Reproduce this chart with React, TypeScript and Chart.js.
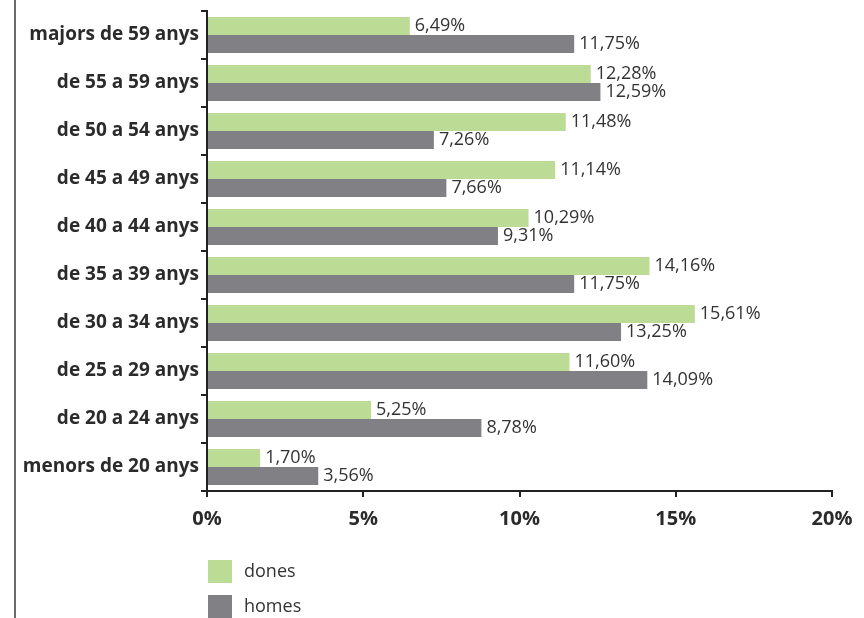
import React, { useEffect, useRef } from 'react';
import { Chart, registerables } from 'chart.js';

Chart.register(...registerables);

const categories = [
  'majors de 59 anys',
  'de 55 a 59 anys',
  'de 50 a 54 anys',
  'de 45 a 49 anys',
  'de 40 a 44 anys',
  'de 35 a 39 anys',
  'de 30 a 34 anys',
  'de 25 a 29 anys',
  'de 20 a 24 anys',
  'menors de 20 anys',
];
const dones = [6.49, 12.28, 11.48, 11.14, 10.29, 14.16, 15.61, 11.6, 5.25, 1.7];
const homes = [11.75, 12.59, 7.26, 7.66, 9.31, 11.75, 13.25, 14.09, 8.78, 3.56];
const seriesLabels = ['dones', 'homes'];
const xMin = 0;
const xMax = 20;
const xStep = 5;

const colors = ['#bcdc96', '#808085'];
const FONT = "'Open Sans', 'DejaVu Sans', sans-serif";
const TEXT = '#2b2b2b';

const fmt = (v: number) => v.toFixed(2).replace('.', ',') + '%';

const valueLabels = {
  id: 'valueLabels',
  afterDatasetsDraw(chart: any) {
    const ctx = chart.ctx;
    ctx.save();
    ctx.font = `400 18px ${FONT}`;
    ctx.fillStyle = '#333';
    ctx.textAlign = 'left';
    ctx.textBaseline = 'middle';
    chart.data.datasets.forEach((ds: any, di: number) => {
      const meta = chart.getDatasetMeta(di);
      meta.data.forEach((bar: any, i: number) => {
        ctx.fillText(fmt(ds.data[i]), bar.x + 5, bar.y);
      });
    });
    ctx.restore();
  },
};

const frame = {
  id: 'frame',
  beforeDraw(chart: any) {
    const ctx = chart.ctx;
    ctx.save();
    ctx.strokeStyle = '#6b6b6b';
    ctx.lineWidth = 2;
    ctx.beginPath();
    ctx.moveTo(15, 0);
    ctx.lineTo(15, chart.height);
    ctx.stroke();
    ctx.restore();
  },
};

const boxLegend = {
  id: 'boxLegend',
  afterDraw(chart: any) {
    const ctx = chart.ctx;
    const left = chart.chartArea.left + 1;
    const top0 = chart.chartArea.bottom + 69;
    ctx.save();
    ctx.font = `400 18px ${FONT}`;
    ctx.textAlign = 'left';
    ctx.textBaseline = 'middle';
    chart.data.datasets.forEach((ds: any, i: number) => {
      const y = top0 + i * 35;
      ctx.fillStyle = ds.backgroundColor;
      ctx.fillRect(left, y, 24, 23);
      ctx.fillStyle = '#333';
      ctx.fillText(ds.label, left + 36, y + 12);
    });
    ctx.restore();
  },
};

export default function App() {
  const ref = useRef<HTMLCanvasElement>(null);
  useEffect(() => {
    if (!ref.current) return;
    const chart = new Chart(ref.current, {
      type: 'bar',
      data: {
        labels: categories,
        datasets: [
          { label: seriesLabels[0], data: dones, backgroundColor: colors[0], categoryPercentage: 0.75, barPercentage: 1 },
          { label: seriesLabels[1], data: homes, backgroundColor: colors[1], categoryPercentage: 0.75, barPercentage: 1 },
        ],
      },
      options: {
        indexAxis: 'y',
        animation: false,
        responsive: true,
        maintainAspectRatio: false,
        layout: { padding: { top: 11, right: 32, left: 0, bottom: 87 } },
        plugins: { legend: { display: false }, tooltip: { enabled: false } },
        scales: {
          x: {
            type: 'linear',
            min: xMin,
            max: xMax,
            ticks: {
              stepSize: xStep,
              callback: (v: any) => v + '%',
              font: { family: FONT, size: 20, weight: 'bold' },
              color: TEXT,
              padding: 10,
            },
            grid: { drawOnChartArea: false, drawTicks: true, tickLength: 6, color: '#222', lineWidth: 2 },
            border: { display: true, color: '#222', width: 2 },
            afterFit: (s: any) => { s.height = 40; },
          },
          y: {
            type: 'category',
            ticks: {
              font: { family: FONT, size: 19, weight: 'bold' },
              color: TEXT,
              padding: 2,
            },
            grid: { offset: true, drawOnChartArea: false, drawTicks: true, tickLength: 6, color: '#222', lineWidth: 2 },
            border: { display: true, color: '#222', width: 2 },
            afterFit: (s: any) => { s.width = 207; s.paddingTop = 0; s.paddingBottom = 0; },
          },
        },
      },
      plugins: [frame, valueLabels, boxLegend],
    });
    return () => chart.destroy();
  }, []);
  return (
    <div style={{ position: 'absolute', left: 0, top: 0, width: 864, height: 618, background: '#fff' }}>
      <canvas ref={ref} />
    </div>
  );
}
